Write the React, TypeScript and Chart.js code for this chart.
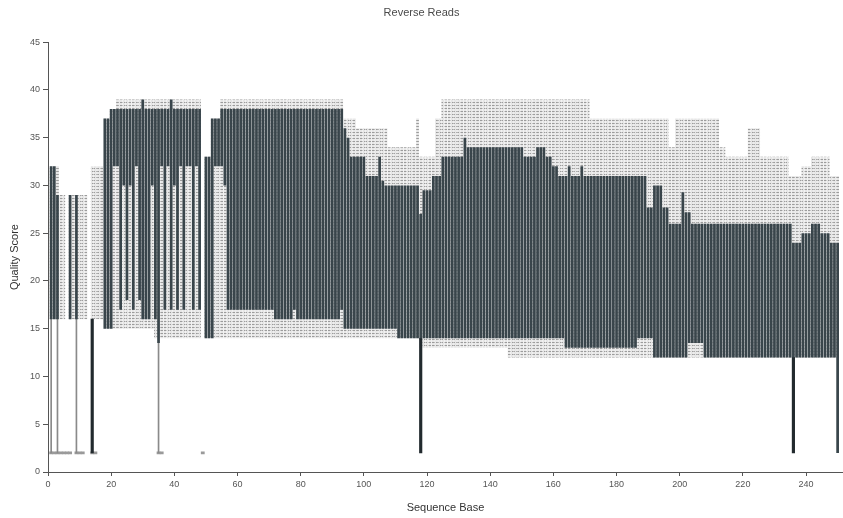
import React, { useEffect, useRef } from 'react';
import { Chart, registerables } from 'chart.js';

Chart.register(...registerables);

// Sequence base positions (1..250)
const positions: number[] = Array.from({ length: 250 }, (_, i) => i + 1);

const xTicks = [0, 20, 40, 60, 80, 100, 120, 140, 160, 180, 200, 220, 240];
const yTicks = [0, 5, 10, 15, 20, 25, 30, 35, 40, 45];

// Box (dark) lower / upper bounds per base
const boxLow: (number | null)[] = [
  16, 16, 16, null, null, null, 16, null, 16, null,
  null, null, null, null, null, null, null, 15, 15, 15,
  32, 32, 17, 30, 18, 30, 17, 32, 18, 16,
  16, 16, 30, 16, 13.5, 32, 17, 32, 17, 30,
  17, 32, 17, 32, 32, 17, 32, 17, null, 14,
  14, 14, 32, 32, 32, 30, 17, 17, 17, 17,
  17, 17, 17, 17, 17, 17, 17, 17, 17, 17,
  17, 16, 16, 16, 16, 16, 16, 17, 16, 16,
  16, 16, 16, 16, 16, 16, 16, 16, 16, 16,
  16, 16, 17, 15, 15, 15, 15, 15, 15, 15,
  15, 15, 15, 15, 15, 15, 15, 15, 15, 15,
  14, 14, 14, 14, 14, 14, 14, 14, 14, 14,
  14, 14, 14, 14, 14, 14, 14, 14, 14, 14,
  14, 14, 14, 14, 14, 14, 14, 14, 14, 14,
  14, 14, 14, 14, 14, 14, 14, 14, 14, 14,
  14, 14, 14, 14, 14, 14, 14, 14, 14, 14,
  14, 14, 14, 13, 13, 13, 13, 13, 13, 13,
  13, 13, 13, 13, 13, 13, 13, 13, 13, 13,
  13, 13, 13, 13, 13, 13, 14, 14, 14, 14,
  14, 12, 12, 12, 12, 12, 12, 12, 12, 12,
  12, 12, 13.5, 13.5, 13.5, 13.5, 13.5, 12, 12, 12,
  12, 12, 12, 12, 12, 12, 12, 12, 12, 12,
  12, 12, 12, 12, 12, 12, 12, 12, 12, 12,
  12, 12, 12, 12, 12, 12, 12, 12, 12, 12,
  12, 12, 12, 12, 12, 12, 12, 12, 12, 2,
];

const boxHigh: (number | null)[] = [
  32, 32, 29, null, null, null, 29, null, 29, null,
  null, null, null, null, null, null, null, 37, 37, 38,
  38, 38, 38, 38, 38, 38, 38, 38, 38, 39,
  38, 38, 38, 38, 38, 38, 38, 38, 39, 38,
  38, 38, 38, 38, 38, 38, 38, 38, null, 33,
  33, 37, 37, 37, 38, 38, 38, 38, 38, 38,
  38, 38, 38, 38, 38, 38, 38, 38, 38, 38,
  38, 38, 38, 38, 38, 38, 38, 38, 38, 38,
  38, 38, 38, 38, 38, 38, 38, 38, 38, 38,
  38, 38, 38, 36, 35, 33, 33, 33, 33, 33,
  31, 31, 31, 31, 33, 30.5, 30, 30, 30, 30,
  30, 30, 30, 30, 30, 30, 30, 27, 29.5, 29.5,
  29.5, 31, 31, 31, 33, 33, 33, 33, 33, 33,
  33, 35, 34, 34, 34, 34, 34, 34, 34, 34,
  34, 34, 34, 34, 34, 34, 34, 34, 34, 34,
  33, 33, 33, 33, 34, 34, 34, 33, 33, 32,
  32, 31, 31, 31, 32, 31, 31, 31, 32, 31,
  31, 31, 31, 31, 31, 31, 31, 31, 31, 31,
  31, 31, 31, 31, 31, 31, 31, 31, 31, 27.7,
  27.7, 30, 30, 30, 27.7, 27.7, 26, 26, 26, 26,
  29.3, 27.2, 27.2, 26, 26, 26, 26, 26, 26, 26,
  26, 26, 26, 26, 26, 26, 26, 26, 26, 26,
  26, 26, 26, 26, 26, 26, 26, 26, 26, 26,
  26, 26, 26, 26, 26, 24, 24, 24, 25, 25,
  25, 26, 26, 26, 25, 25, 25, 24, 24, 24,
];

// Whisker range (light) lower / upper bounds per base
const rangeLow: (number | null)[] = [
  16, 16, 16, 16, 16, null, 16, 16, 16, 16,
  16, 16, null, 16, 16, 16, 16, 15, 15, 15,
  15, 15, 15, 15, 15, 15, 15, 15, 15, 15,
  15, 15, 15, 14, 14, 14, 14, 14, 14, 14,
  14, 14, 14, 14, 14, 14, 14, 14, null, 14,
  14, 14, 14, 14, 14, 14, 14, 14, 14, 14,
  14, 14, 14, 14, 14, 14, 14, 14, 14, 14,
  14, 14, 14, 14, 14, 14, 14, 14, 14, 14,
  14, 14, 14, 14, 14, 14, 14, 14, 14, 14,
  14, 14, 14, 14, 14, 14, 14, 14, 14, 14,
  14, 14, 14, 14, 14, 14, 14, 14, 14, 14,
  14, 14, 14, 14, 14, 14, 14, 13, 13, 13,
  13, 13, 13, 13, 13, 13, 13, 13, 13, 13,
  13, 13, 13, 13, 13, 13, 13, 13, 13, 13,
  13, 13, 13, 13, 13, 12, 12, 12, 12, 12,
  12, 12, 12, 12, 12, 12, 12, 12, 12, 12,
  12, 12, 12, 12, 12, 12, 12, 12, 12, 12,
  12, 12, 12, 12, 12, 12, 12, 12, 12, 12,
  12, 12, 12, 12, 12, 12, 12, 12, 12, 12,
  12, 12, 12, 12, 12, 12, 12, 12, 12, 12,
  12, 12, 12, 12, 12, 12, 12, 12, 12, 12,
  12, 12, 12, 12, 12, 12, 12, 12, 12, 12,
  12, 12, 12, 12, 12, 12, 12, 12, 12, 12,
  12, 12, 12, 12, 12, 12, 12, 12, 12, 12,
  12, 12, 12, 12, 12, 12, 12, 12, 12, 12,
];

const rangeHigh: (number | null)[] = [
  32, 32, 32, 29, 29, null, 29, 29, 29, 29,
  29, 29, null, 32, 32, 32, 32, 37, 37, 38,
  38, 39, 39, 39, 39, 39, 39, 39, 39, 39,
  39, 39, 39, 39, 39, 39, 39, 39, 39, 39,
  39, 39, 39, 39, 39, 39, 39, 39, null, 33,
  33, 37, 37, 37, 39, 39, 39, 39, 39, 39,
  39, 39, 39, 39, 39, 39, 39, 39, 39, 39,
  39, 39, 39, 39, 39, 39, 39, 39, 39, 39,
  39, 39, 39, 39, 39, 39, 39, 39, 39, 39,
  39, 39, 39, 37, 37, 37, 37, 36, 36, 36,
  36, 36, 36, 36, 36, 36, 36, 34, 34, 34,
  34, 34, 34, 34, 34, 34, 37, 33, 33, 33,
  33, 33, 37, 37, 39, 39, 39, 39, 39, 39,
  39, 39, 39, 39, 39, 39, 39, 39, 39, 39,
  39, 39, 39, 39, 39, 39, 39, 39, 39, 39,
  39, 39, 39, 39, 39, 39, 39, 39, 39, 39,
  39, 39, 39, 39, 39, 39, 39, 39, 39, 39,
  39, 37, 37, 37, 37, 37, 37, 37, 37, 37,
  37, 37, 37, 37, 37, 37, 37, 37, 37, 37,
  37, 37, 37, 37, 37, 37, 34, 34, 37, 37,
  37, 37, 37, 37, 37, 37, 37, 37, 37, 37,
  37, 37, 34, 34, 33, 33, 33, 33, 33, 33,
  33, 36, 36, 36, 36, 33, 33, 33, 33, 33,
  33, 33, 33, 33, 31, 31, 31, 31, 32, 32,
  32, 33, 33, 33, 33, 33, 33, 31, 31, 31,
];

// Extreme whisker lines reaching down to the minimum
const thinLineBases = [1, 3, 9, 35];
const thinLineTop = [16, 16, 16, 13.5];
const thickLineBases = [14, 118, 236];
const thickLineTop = [16, 14, 12];
const lineBottom = 2;
const capBases = [1, 2, 3, 4, 5, 6, 7, 9, 10, 11, 14, 15, 35, 36, 49];

const FONT = "'Liberation Sans', Arial, sans-serif";

function makePattern(): CanvasPattern | string {
  const c = document.createElement('canvas');
  c.width = 4;
  c.height = 3;
  const g = c.getContext('2d');
  if (!g) return '#cfcfcf';
  g.fillStyle = '#e6e6e6';
  g.fillRect(0, 0, 4, 3);
  g.fillStyle = '#9c9c9c';
  g.fillRect(0, 0, 3, 1);
  const p = g.createPattern(c, 'repeat');
  return p || '#cfcfcf';
}

export default function App() {
  const ref = useRef<HTMLCanvasElement | null>(null);

  useEffect(() => {
    if (!ref.current) return;
    const pair = (lo: (number | null)[], hi: (number | null)[]) =>
      positions.map((p, i) => ({
        x: p,
        y: lo[i] == null || hi[i] == null ? null : [lo[i], hi[i]],
      }));

    const chart = new Chart(ref.current, {
      type: 'bar',
      data: {
        datasets: [
          {
            label: 'IQR',
            data: pair(boxLow, boxHigh) as any,
            backgroundColor: '#39454b',
            borderWidth: 0,
            grouped: false,
            barPercentage: 0.86,
            categoryPercentage: 1,
            order: 0,
          },
          {
            label: 'min thin',
            data: thinLineBases.map((p, i) => ({ x: p, y: [lineBottom, thinLineTop[i]] })) as any,
            backgroundColor: '#8a8a8a',
            borderWidth: 0,
            grouped: false,
            barThickness: 1,
            order: 1,
          },
          {
            label: 'min thick',
            data: thickLineBases.map((p, i) => ({ x: p, y: [lineBottom, thickLineTop[i]] })) as any,
            backgroundColor: '#222a2e',
            borderWidth: 0,
            grouped: false,
            barThickness: 2.5,
            order: 1,
          },
          {
            label: 'caps',
            data: capBases.map((p) => ({ x: p, y: [lineBottom - 0.12, lineBottom + 0.12] })) as any,
            backgroundColor: '#9a9a9a',
            borderWidth: 0,
            grouped: false,
            barPercentage: 1,
            categoryPercentage: 1,
            order: 1,
          },
          {
            label: 'range',
            data: pair(rangeLow, rangeHigh) as any,
            backgroundColor: makePattern() as any,
            borderWidth: 0,
            grouped: false,
            barPercentage: 0.86,
            categoryPercentage: 1,
            order: 2,
          },
        ],
      },
      options: {
        responsive: false,
        animation: false,
        events: [],
        layout: { padding: { left: 0, right: 0, top: 0, bottom: 0 } },
        plugins: {
          legend: { display: false },
          tooltip: { enabled: false },
          title: {
            display: true,
            text: 'Reverse Reads',
            color: '#4a4a4a',
            font: { family: FONT, size: 11, weight: 'normal' },
            padding: { top: 6, bottom: 23 },
          },
        },
        scales: {
          x: {
            type: 'linear',
            min: 0,
            max: 251.7,
            offset: false,
            afterBuildTicks: (s: any) => {
              s.ticks = xTicks.map((v) => ({ value: v }));
            },
            afterFit: (s: any) => {
              s.height = 46;
            },
            ticks: {
              color: '#555',
              font: { family: FONT, size: 9 },
              padding: 3,
              autoSkip: false,
              maxRotation: 0,
            },
            grid: { display: true, offset: false, drawOnChartArea: false, drawTicks: true, tickLength: 4, color: '#555' },
            border: { display: true, color: '#555', width: 1 },
            title: {
              display: true,
              text: 'Sequence Base',
              color: '#333',
              font: { family: FONT, size: 11 },
              padding: { top: 0, bottom: 3 },
            },
          },
          y: {
            type: 'linear',
            min: 0,
            max: 45,
            afterBuildTicks: (s: any) => {
              s.ticks = yTicks.map((v) => ({ value: v }));
            },
            afterFit: (s: any) => {
              s.width = 48;
            },
            ticks: { color: '#555', font: { family: FONT, size: 9 }, padding: 3 },
            grid: { display: true, drawOnChartArea: false, drawTicks: true, tickLength: 5, color: '#555' },
            border: { display: true, color: '#555', width: 1 },
            title: {
              display: true,
              text: 'Quality Score',
              color: '#333',
              font: { family: FONT, size: 11 },
              padding: { top: 8, bottom: 0 },
            },
          },
        },
      },
    });
    return () => chart.destroy();
  }, []);

  return (
    <div style={{ position: 'fixed', left: 0, top: 0, width: 843, height: 518, background: '#fff' }}>
      <canvas ref={ref} width={843} height={518} style={{ display: 'block', width: 843, height: 518 }} />
    </div>
  );
}
